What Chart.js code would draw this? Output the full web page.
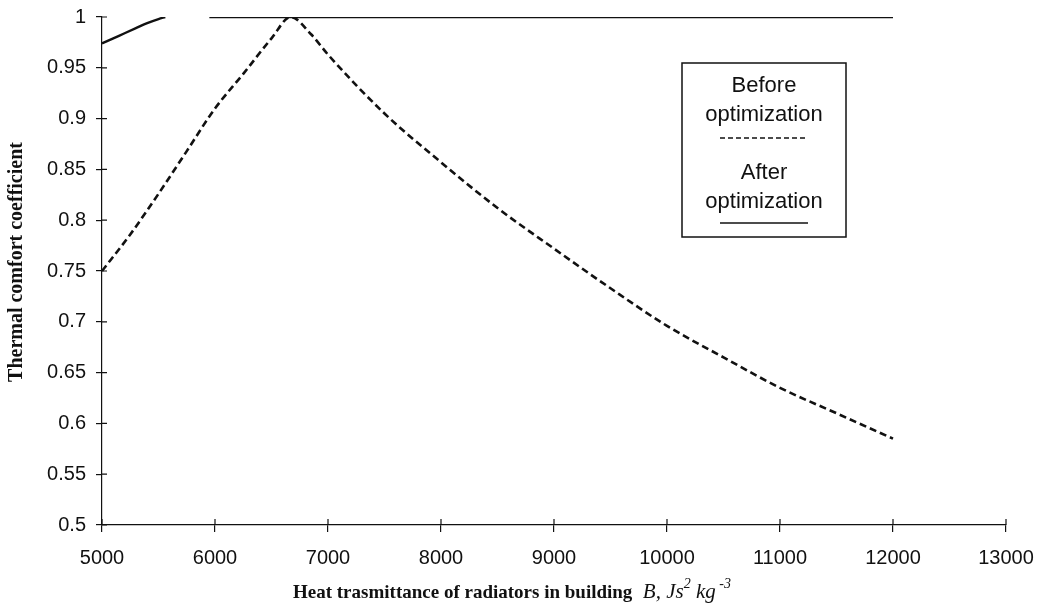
<!DOCTYPE html>
<html>
<head>
<meta charset="utf-8">
<script src="https://cdn.jsdelivr.net/npm/chart.js@4.4.1/dist/chart.umd.min.js"></script>
<style>
  body { margin: 0; background: #fff; }
  #wrap { width: 1042px; height: 611px; position: relative; }
</style>
</head>
<body>
<div id="wrap"><canvas id="chart-comfort"></canvas></div>
<script>
// values
const beforeX = [5000, 5250, 5500, 5750, 6000, 6250, 6500, 6670, 6850, 7000, 7500, 8000, 8500, 9000, 9500, 10000, 10500, 11000, 11500, 12000];
const beforeY = [0.75, 0.786, 0.826, 0.868, 0.91, 0.944, 0.979, 1.0, 0.983, 0.963, 0.905, 0.857, 0.812, 0.772, 0.733, 0.696, 0.665, 0.635, 0.61, 0.585];
const afterX = [5000, 5100, 5200, 5300, 5400, 5500, 5560, 5750, 5950, 12000];
const afterY = [0.974, 0.979, 0.984, 0.989, 0.994, 0.998, 1.0, null, 1.0, 1.0];
const xTicks = [5000, 6000, 7000, 8000, 9000, 10000, 11000, 12000, 13000];
const yTicks = [0.5, 0.55, 0.6, 0.65, 0.7, 0.75, 0.8, 0.85, 0.9, 0.95, 1];
const legendLabels = [["Before", "optimization"], ["After", "optimization"]];

const sans = '"Liberation Sans", Arial, sans-serif';
const serif = '"Liberation Serif", "Times New Roman", serif';

// ticks in this figure cross the axis, chart.js only draws the outer half
const innerTicks = {
    id: 'innerTicks',
    afterDraw(chart) {
        const { ctx, scales: { x, y }, chartArea: a } = chart;
        ctx.save();
        ctx.strokeStyle = '#111';
        ctx.lineWidth = 1.2;
        ctx.beginPath();
        xTicks.forEach(v => {
            const px = x.getPixelForValue(v);
            ctx.moveTo(px, a.bottom);
            ctx.lineTo(px, a.bottom - 6);
        });
        yTicks.forEach(v => {
            const py = y.getPixelForValue(v);
            ctx.moveTo(a.left, py);
            ctx.lineTo(a.left + 5, py);
        });
        ctx.stroke();
        ctx.restore();
    }
};

// axis titles with mixed fonts and superscripts
const axisTitles = {
    id: 'axisTitles',
    afterDraw(chart) {
        const ctx = chart.ctx;
        ctx.save();
        ctx.fillStyle = '#111';
        ctx.textBaseline = 'alphabetic';
        ctx.textAlign = 'left';

        const parts = [
            { t: 'Heat trasmittance of radiators in building', f: 'bold 19px ' + serif, dy: 0 },
            { t: '  B, Js', f: 'italic 21px ' + serif, dy: 0 },
            { t: '2', f: 'italic 14px ' + serif, dy: -10 },
            { t: ' kg', f: 'italic 21px ' + serif, dy: 0 },
            { t: ' -3', f: 'italic 14px ' + serif, dy: -10 }
        ];
        let px = 293;
        const base = 598;
        parts.forEach(p => {
            ctx.font = p.f;
            ctx.fillText(p.t, px, base + p.dy);
            px += ctx.measureText(p.t).width;
        });

        ctx.translate(22, 262);
        ctx.rotate(-Math.PI / 2);
        ctx.textAlign = 'center';
        ctx.font = 'bold 20px ' + serif;
        ctx.fillText('Thermal comfort coefficient', 0, 0);
        ctx.restore();
    }
};

// legend box drawn like the original
const boxLegend = {
    id: 'boxLegend',
    afterDraw(chart) {
        const ctx = chart.ctx;
        const left = 682, top = 63, right = 846, bottom = 237;
        const cx = (left + right) / 2;
        ctx.save();
        ctx.fillStyle = '#fff';
        ctx.fillRect(left, top, right - left, bottom - top);
        ctx.strokeStyle = '#111';
        ctx.lineWidth = 1.5;
        ctx.strokeRect(left, top, right - left, bottom - top);

        ctx.fillStyle = '#111';
        ctx.font = '22px ' + sans;
        ctx.textAlign = 'center';
        ctx.textBaseline = 'middle';
        ctx.fillText(legendLabels[0][0], cx, 86);
        ctx.fillText(legendLabels[0][1], cx, 115);
        ctx.fillText(legendLabels[1][0], cx, 173);
        ctx.fillText(legendLabels[1][1], cx, 202);

        ctx.beginPath();
        ctx.setLineDash([5, 3]);
        ctx.lineWidth = 1.5;
        ctx.moveTo(720, 138);
        ctx.lineTo(808, 138);
        ctx.stroke();

        ctx.beginPath();
        ctx.setLineDash([]);
        ctx.lineWidth = 1.6;
        ctx.moveTo(720, 223);
        ctx.lineTo(808, 223);
        ctx.stroke();
        ctx.restore();
    }
};

const ctx = document.getElementById('chart-comfort').getContext('2d');
new Chart(ctx, {
    type: 'line',
    data: {
        datasets: [{
            label: 'Before optimization',
            data: beforeX.map((v, i) => ({ x: v, y: beforeY[i] })),
            borderColor: '#111',
            borderWidth: 2.6,
            borderDash: [7, 4],
            pointRadius: 0,
            cubicInterpolationMode: 'monotone',
            fill: false
        }, {
            label: 'After optimization',
            data: afterX.map((v, i) => ({ x: v, y: afterY[i] })),
            borderColor: '#111',
            borderWidth: 2.4,
            pointRadius: 0,
            cubicInterpolationMode: 'monotone',
            spanGaps: false,
            fill: false
        }]
    },
    options: {
        responsive: true,
        maintainAspectRatio: false,
        animation: false,
        layout: {
            padding: { top: 17, right: 36, left: 0, bottom: 0 }
        },
        plugins: {
            legend: { display: false },
            tooltip: { enabled: false }
        },
        scales: {
            x: {
                type: 'linear',
                min: 5000,
                max: 13000,
                afterBuildTicks: s => { s.ticks = xTicks.map(v => ({ value: v })); },
                afterFit: s => {
                    s.height = 86;
                    s.paddingLeft = 0;
                    s.paddingRight = 0;
                },
                border: { display: true, color: '#111', width: 1.2 },
                grid: {
                    display: true,
                    drawOnChartArea: false,
                    drawTicks: true,
                    tickLength: 7,
                    color: '#111',
                    lineWidth: 1.2
                },
                ticks: {
                    color: '#111',
                    padding: 14,
                    maxRotation: 0,
                    autoSkip: false,
                    font: { size: 20, family: sans },
                    callback: v => String(v)
                }
            },
            y: {
                min: 0.5,
                max: 1,
                afterBuildTicks: s => { s.ticks = yTicks.map(v => ({ value: v })); },
                afterFit: s => {
                    s.width = 102;
                    s.paddingTop = 0;
                    s.paddingBottom = 0;
                },
                border: { display: true, color: '#111', width: 1.2 },
                grid: {
                    display: true,
                    drawOnChartArea: false,
                    drawTicks: true,
                    tickLength: 6,
                    color: '#111',
                    lineWidth: 1.2
                },
                ticks: {
                    color: '#111',
                    padding: 10,
                    autoSkip: false,
                    font: { size: 20, family: sans },
                    callback: v => String(+v.toFixed(2))
                }
            }
        }
    },
    plugins: [innerTicks, axisTitles, boxLegend]
});
</script>
</body>
</html>
